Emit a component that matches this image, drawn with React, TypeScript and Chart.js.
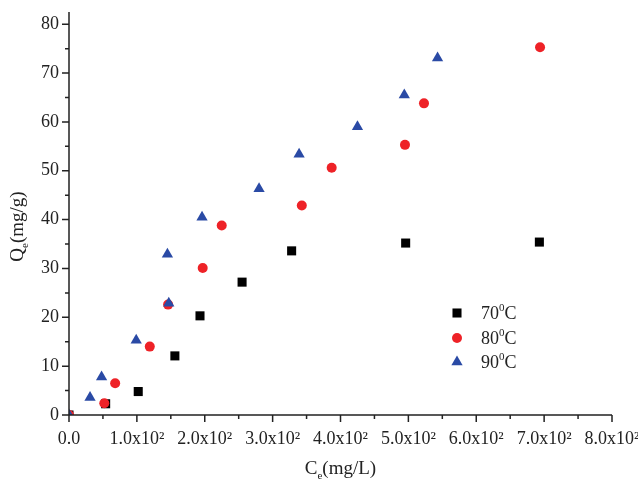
import React, { useEffect, useRef } from 'react';
import { Chart, registerables } from 'chart.js';

Chart.register(...registerables);

// ---- Data ----
const x70 = [0, 54, 102, 156, 193, 255, 328, 496, 693];
const y70 = [0, 2.3, 4.8, 12.1, 20.3, 27.2, 33.6, 35.2, 35.4];

const x80 = [0, 52, 68, 119, 146, 197, 225, 343, 387, 495, 523, 694];
const y80 = [0, 2.4, 6.5, 14.0, 22.6, 30.1, 38.8, 42.9, 50.6, 55.3, 63.8, 75.3];

const x90 = [0, 31, 48, 99, 147, 145, 196, 280, 339, 425, 494, 543];
const y90 = [0, 3.6, 7.8, 15.3, 22.9, 32.9, 40.5, 46.3, 53.4, 59.0, 65.5, 73.1];

const seriesNames = ['70', '80', '90'];
const seriesColors = ['#000000', '#ee2227', '#2a4aa5'];

const xTickValues = [0, 100, 200, 300, 400, 500, 600, 700, 800];
const xTickLabels = ['0.0', '1.0x10²', '2.0x10²', '3.0x10²', '4.0x10²', '5.0x10²', '6.0x10²', '7.0x10²', '8.0x10²'];
const yTickValues = [0, 10, 20, 30, 40, 50, 60, 70, 80];
const xMinorValues = [50, 150, 250, 350, 450, 550, 650, 750];
const yMinorValues = [5, 15, 25, 35, 45, 55, 65, 75];

const FONT = "'Liberation Serif', 'Times New Roman', serif";

const toPoints = (xs: number[], ys: number[]) => xs.map((x, i) => ({ x, y: ys[i] }));

const decorPlugin = {
  id: 'decor',
  afterDraw(chart: any) {
    const ctx = chart.ctx as CanvasRenderingContext2D;
    const xs = chart.scales.x;
    const ys = chart.scales.y;
    const area = chart.chartArea;
    ctx.save();
    ctx.strokeStyle = '#222';
    ctx.lineWidth = 1.5;
    // axis lines
    ctx.beginPath();
    ctx.moveTo(area.left, area.top);
    ctx.lineTo(area.left, area.bottom);
    ctx.moveTo(area.left, area.bottom);
    ctx.lineTo(area.right, area.bottom);
    ctx.stroke();
    // ticks
    ctx.beginPath();
    xTickValues.forEach((v) => {
      const p = xs.getPixelForValue(v);
      ctx.moveTo(p, area.bottom);
      ctx.lineTo(p, area.bottom + 7);
    });
    xMinorValues.forEach((v) => {
      const p = xs.getPixelForValue(v);
      ctx.moveTo(p, area.bottom);
      ctx.lineTo(p, area.bottom + 4);
    });
    yTickValues.forEach((v) => {
      const p = ys.getPixelForValue(v);
      ctx.moveTo(area.left, p);
      ctx.lineTo(area.left - 7, p);
    });
    yMinorValues.forEach((v) => {
      const p = ys.getPixelForValue(v);
      ctx.moveTo(area.left, p);
      ctx.lineTo(area.left - 4, p);
    });
    ctx.stroke();

    // axis titles
    ctx.fillStyle = '#222';
    ctx.textBaseline = 'alphabetic';
    const drawSubTitle = (main: string, sub: string, rest: string, cx: number, baseY: number) => {
      ctx.font = `19px ${FONT}`;
      const w1 = ctx.measureText(main).width;
      const w3 = ctx.measureText(rest).width;
      ctx.font = `11px ${FONT}`;
      const w2 = ctx.measureText(sub).width;
      const total = w1 + w2 + w3;
      let x = cx - total / 2;
      ctx.textAlign = 'left';
      ctx.font = `19px ${FONT}`;
      ctx.fillText(main, x, baseY);
      x += w1;
      ctx.font = `11px ${FONT}`;
      ctx.fillText(sub, x, baseY + 5);
      x += w2;
      ctx.font = `19px ${FONT}`;
      ctx.fillText(rest, x, baseY);
    };
    // x title
    drawSubTitle('C', 'e', '(mg/L)', (area.left + area.right) / 2, 474);
    // y title
    ctx.save();
    ctx.translate(23, 226.5);
    ctx.rotate(-Math.PI / 2);
    drawSubTitle('Q', 'e', '(mg/g)', 0, 0);
    ctx.restore();

    // legend
    const legendX = 457;
    const legendY = [313, 338, 362];
    const styles = ['rect', 'circle', 'triangle'];
    const radii = [6.4, 5, 6.5];
    seriesNames.forEach((name, i) => {
      const cy = legendY[i];
      ctx.fillStyle = seriesColors[i];
      ctx.beginPath();
      const r = radii[i];
      if (styles[i] === 'rect') {
        const s = Math.SQRT1_2 * r;
        ctx.rect(legendX - s, cy - s, 2 * s, 2 * s);
      } else if (styles[i] === 'circle') {
        ctx.arc(legendX, cy, r, 0, Math.PI * 2);
      } else {
        let rad = 0;
        ctx.moveTo(legendX + Math.sin(rad) * r, cy - Math.cos(rad) * r);
        rad += (2 * Math.PI) / 3;
        ctx.lineTo(legendX + Math.sin(rad) * r, cy - Math.cos(rad) * r);
        rad += (2 * Math.PI) / 3;
        ctx.lineTo(legendX + Math.sin(rad) * r, cy - Math.cos(rad) * r);
        ctx.closePath();
      }
      ctx.fill();

      ctx.fillStyle = '#222';
      ctx.textAlign = 'left';
      let tx = 481;
      const base = cy + 6;
      ctx.font = `18px ${FONT}`;
      ctx.fillText(name, tx, base);
      tx += ctx.measureText(name).width;
      ctx.font = `11px ${FONT}`;
      ctx.fillText('0', tx, base - 8);
      tx += ctx.measureText('0').width;
      ctx.font = `18px ${FONT}`;
      ctx.fillText('C', tx, base);
    });
    ctx.restore();
  },
};

export default function App() {
  const canvasRef = useRef<HTMLCanvasElement | null>(null);

  useEffect(() => {
    const canvas = canvasRef.current;
    if (!canvas) return;
    const chart = new Chart(canvas, {
      type: 'scatter',
      data: {
        datasets: [
          {
            label: seriesNames[0],
            data: toPoints(x70, y70),
            pointStyle: 'rect',
            pointRadius: 6.4,
            backgroundColor: seriesColors[0],
            borderColor: seriesColors[0],
            borderWidth: 0,
            order: 2,
          },
          {
            label: seriesNames[1],
            data: toPoints(x80, y80),
            pointStyle: 'circle',
            pointRadius: 5,
            backgroundColor: seriesColors[1],
            borderColor: seriesColors[1],
            borderWidth: 0,
            order: 1,
          },
          {
            label: seriesNames[2],
            data: toPoints(x90, y90),
            pointStyle: 'triangle',
            pointRadius: 6.5,
            backgroundColor: seriesColors[2],
            borderColor: seriesColors[2],
            borderWidth: 0,
            order: 0,
          },
        ],
      },
      options: {
        responsive: false,
        animation: false,
        layout: { padding: { top: 12, right: 26, left: 0, bottom: 0 } },
        plugins: {
          legend: { display: false },
          tooltip: { enabled: false },
        },
        scales: {
          x: {
            type: 'linear',
            min: 0,
            max: 800,
            grid: { display: false, drawTicks: false },
            border: { display: false },
            afterBuildTicks: (scale: any) => {
              scale.ticks = xTickValues.map((v) => ({ value: v }));
            },
            afterFit: (scale: any) => {
              scale.height = 68;
              scale.paddingLeft = 0;
              scale.paddingRight = 0;
            },
            ticks: {
              autoSkip: false,
              maxRotation: 0,
              minRotation: 0,
              padding: 13,
              color: '#222',
              font: { family: FONT, size: 18 },
              callback: (v: any) => {
                const i = xTickValues.indexOf(Number(v));
                return i >= 0 ? xTickLabels[i] : '';
              },
            },
          },
          y: {
            type: 'linear',
            min: 0,
            max: 82.5,
            grid: { display: false, drawTicks: false },
            border: { display: false },
            afterBuildTicks: (scale: any) => {
              scale.ticks = yTickValues.map((v) => ({ value: v }));
            },
            afterFit: (scale: any) => {
              scale.width = 69;
              scale.paddingTop = 0;
              scale.paddingBottom = 0;
            },
            ticks: {
              autoSkip: false,
              padding: 10,
              color: '#222',
              font: { family: FONT, size: 18 },
              callback: (v: any) => String(v),
            },
          },
        },
      },
      plugins: [decorPlugin],
    } as any);
    return () => chart.destroy();
  }, []);

  return (
    <div style={{ position: 'fixed', left: 0, top: 0, width: 638, height: 483, background: '#fff' }}>
      <canvas ref={canvasRef} width={638} height={483} style={{ width: 638, height: 483, display: 'block' }} />
    </div>
  );
}
